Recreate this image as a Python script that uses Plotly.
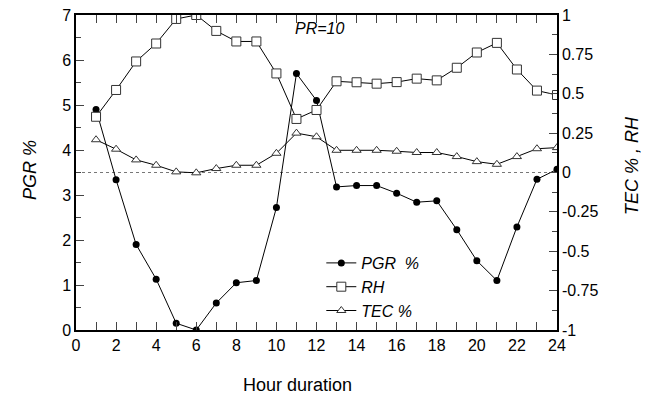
import plotly.graph_objects as go

hours = list(range(1, 25))
pgr = [4.9, 3.34, 1.9, 1.13, 0.15, 0.0, 0.6, 1.05, 1.1, 2.72, 5.7, 5.1,
       3.18, 3.21, 3.21, 3.04, 2.84, 2.87, 2.23, 1.54, 1.1, 2.29, 3.35, 3.57]
rh = [0.354, 0.524, 0.705, 0.819, 0.975, 1.0, 0.899, 0.832, 0.832, 0.629, 0.34, 0.397,
      0.579, 0.573, 0.564, 0.574, 0.596, 0.585, 0.665, 0.762, 0.823, 0.654, 0.52, 0.492]
tec = [0.208, 0.148, 0.08, 0.046, 0.004, -0.002, 0.025, 0.046, 0.046, 0.122, 0.25, 0.227,
       0.141, 0.141, 0.141, 0.135, 0.127, 0.127, 0.101, 0.069, 0.052, 0.101, 0.151, 0.158]

y2_tickvals = [-1, -0.75, -0.5, -0.25, 0, 0.25, 0.5, 0.75, 1]
y2_ticktext = ["-1", "-0.75", "-0.5", "-0.25", "0", "0.25", "0.5", "0.75", "1"]

FONT = "Arial, Liberation Sans, sans-serif"

# page body has an 8px default margin; compensate so the plot lands where the reference has it
BODY = 8
W, H = 649 - BODY, 394 - BODY
TOP = 15      # page y of plot top (slightly lowered so the top tick labels are not clipped)
BOTTOM = 330  # page y of plot bottom
L, T = 76 - BODY, TOP - BODY
PW, PH = 481, BOTTOM - TOP
R, B = W - L - PW, H - T - PH

fig = go.Figure()
fig.add_trace(go.Scatter(
    x=hours, y=pgr, name="<i>PGR\u00a0 %</i>", mode="lines+markers",
    line=dict(color="black", width=1),
    marker=dict(symbol="circle", size=7, color="black"),
))
fig.add_trace(go.Scatter(
    x=hours, y=rh, name="<i>RH</i>", mode="lines+markers", yaxis="y2",
    line=dict(color="black", width=1),
    marker=dict(symbol="square", size=9, color="white", line=dict(color="#333", width=1)),
))
fig.add_trace(go.Scatter(
    x=hours, y=tec, name="<i>TEC %</i>", mode="lines+markers", yaxis="y2",
    line=dict(color="black", width=1),
    marker=dict(symbol="triangle-up", size=8, color="white", line=dict(color="#333", width=1)),
))

fig.add_shape(type="line", xref="x", yref="y2", x0=0, x1=24, y0=0, y1=0,
              line=dict(color="#777", width=1, dash="dot"), layer="below")


def px_x(p):
    return (p - 76) / PW


def px_y(p):
    return (BOTTOM - p) / PH


fig.update_layout(
    width=W, height=H,
    margin=dict(l=L, r=R, t=T, b=B, pad=0),
    autosize=False,
    paper_bgcolor="white", plot_bgcolor="white",
    font=dict(family=FONT, size=16, color="black"),
    showlegend=True,
    legend=dict(x=0.51, y=px_y(246), xanchor="left", yanchor="top",
                bgcolor="rgba(0,0,0,0)", font=dict(size=16),
                tracegroupgap=0, itemwidth=30),
    xaxis=dict(range=[0, 24], dtick=2, tick0=0, ticks="inside", ticklen=8,
               showline=True, linecolor="black", linewidth=1.5, mirror="allticks",
               showgrid=False, zeroline=False, automargin=False,
               ticklabeloverflow="allow",
               minor=dict(dtick=1, ticks="inside", ticklen=4, showgrid=False),
               tickfont=dict(size=16)),
    yaxis=dict(range=[0, 7], dtick=1, tick0=0, ticks="inside", ticklen=8,
               showline=True, linecolor="black", linewidth=1.5, mirror=True,
               showgrid=False, zeroline=False, automargin=False,
               ticklabeloverflow="allow",
               minor=dict(dtick=0.5, ticks="inside", ticklen=5, showgrid=False),
               tickfont=dict(size=16)),
    yaxis2=dict(range=[-1, 1], overlaying="y", side="right",
                tickmode="array", tickvals=y2_tickvals, ticktext=y2_ticktext,
                ticks="inside", ticklen=8, showline=True, linecolor="black", linewidth=1.5,
                showgrid=False, zeroline=False, automargin=False,
                ticklabeloverflow="allow",
                minor=dict(dtick=0.125, tick0=-1, ticks="inside", ticklen=5, showgrid=False),
                tickfont=dict(size=16)),
)

fig.add_annotation(text="<i>PR=10</i>", xref="paper", yref="paper",
                   x=px_x(319), y=px_y(29), showarrow=False,
                   font=dict(size=16), xanchor="center", yanchor="middle")
fig.add_annotation(text="<i>PGR %</i>", xref="paper", yref="paper",
                   x=px_x(30), y=px_y(170), showarrow=False, textangle=-90,
                   font=dict(size=18), xanchor="center", yanchor="middle")
fig.add_annotation(text="<i>TEC % , RH</i>", xref="paper", yref="paper",
                   x=px_x(632), y=px_y(166), showarrow=False, textangle=-90,
                   font=dict(size=18), xanchor="center", yanchor="middle")
fig.add_annotation(text="Hour duration", xref="paper", yref="paper",
                   x=px_x(297), y=px_y(385), showarrow=False,
                   font=dict(size=18), xanchor="center", yanchor="middle")

fig.write_html("out.html")
